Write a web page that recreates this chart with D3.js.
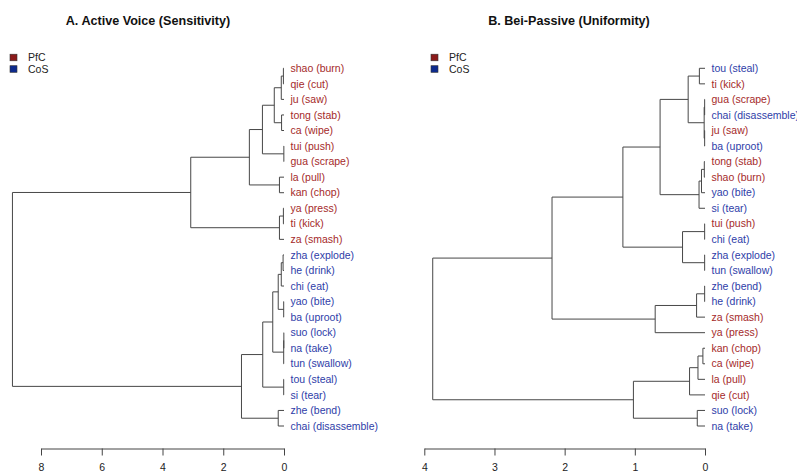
<!DOCTYPE html>
<html>
<head>
<meta charset="utf-8">
<script src="https://cdn.jsdelivr.net/npm/d3@7"></script>
<style>
  body { margin: 0; background: #fff; }
  svg text { font-family: "Liberation Sans", Arial, Helvetica, sans-serif; }
</style>
</head>
<body>
<div id="chart"></div>
<script>
// Panel A leaves (top to bottom) and their class
const leavesA = ["shao (burn)", "qie (cut)", "ju (saw)", "tong (stab)", "ca (wipe)", "tui (push)",
    "gua (scrape)", "la (pull)", "kan (chop)", "ya (press)", "ti (kick)", "za (smash)",
    "zha (explode)", "he (drink)", "chi (eat)", "yao (bite)", "ba (uproot)", "suo (lock)",
    "na (take)", "tun (swallow)", "tou (steal)", "si (tear)", "zhe (bend)", "chai (disassemble)"];
const groupsA = ["PfC", "PfC", "PfC", "PfC", "PfC", "PfC", "PfC", "PfC", "PfC", "PfC", "PfC", "PfC",
    "CoS", "CoS", "CoS", "CoS", "CoS", "CoS", "CoS", "CoS", "CoS", "CoS", "CoS", "CoS"];
// merges: [left, right, height]; string = leaf, number = earlier merge
const mergesA = [
    ["shao", "qie", 0.02], [0, "ju", 0.09], ["tong", "ca", 0.08], [1, 2, 0.32],
    ["tui", "gua", 0.005], [3, 4, 0.71], ["la", "kan", 0.15], [5, 6, 1.14],
    ["ya", "ti", 0.02], [8, "za", 0.15], [7, 9, 3.07],
    ["zha", "he", 0.03], [11, "chi", 0.09], ["yao", "ba", 0.01], [12, 13, 0.19],
    ["suo", "na", 0.005], [15, "tun", 0.01], [14, 16, 0.37], ["tou", "si", 0.01],
    [17, 18, 0.70], ["zhe", "chai", 0.19], [19, 20, 1.40], [10, 21, 8.94]
];
const ticksA = [8, 6, 4, 2, 0];

// Panel B
const leavesB = ["tou (steal)", "ti (kick)", "gua (scrape)", "chai (disassemble)", "ju (saw)", "ba (uproot)",
    "tong (stab)", "shao (burn)", "yao (bite)", "si (tear)", "tui (push)", "chi (eat)",
    "zha (explode)", "tun (swallow)", "zhe (bend)", "he (drink)", "za (smash)", "ya (press)",
    "kan (chop)", "ca (wipe)", "la (pull)", "qie (cut)", "suo (lock)", "na (take)"];
const groupsB = ["CoS", "PfC", "PfC", "CoS", "PfC", "CoS", "PfC", "PfC", "CoS", "CoS", "PfC", "CoS",
    "CoS", "CoS", "CoS", "CoS", "PfC", "PfC", "PfC", "PfC", "PfC", "PfC", "CoS", "CoS"];
const mergesB = [
    ["tou", "ti", 0.08], ["gua", "chai", 0.005], ["ju", "ba", 0.005], [1, 2, 0.012], [0, 3, 0.24],
    ["tong", "shao", 0.01], [5, "yao", 0.05], [6, "si", 0.085], [4, 7, 0.64],
    ["tui", "chi", 0.005], ["zha", "tun", 0.005], [9, 10, 0.32], [8, 11, 1.17],
    ["zhe", "he", 0.005], [13, "za", 0.12], [14, "ya", 0.71], [12, 15, 2.18],
    ["kan", "ca", 0.03], [17, "la", 0.10], [18, "qie", 0.22], ["suo", "na", 0.11],
    [19, 20, 1.02], [16, 21, 3.88]
];
const ticksB = [4, 3, 2, 1, 0];

const legendKeys = ["PfC", "CoS"];

const width = 797, height = 472;
const boxColor = { PfC: "#8b1a1a", CoS: "#0d2a8c" };
const textColor = { PfC: "#a52a2a", CoS: "#2e3da8" };

const svg = d3.select("#chart").append("svg")
    .attr("width", width)
    .attr("height", height);

// leaf rows are shared by both panels
const y = d3.scaleLinear().domain([0, 23]).range([68.3, 426]);

function drawDendro(opts) {
    const { leaves, groups, merges, ticks, x, title, titleX, legendX } = opts;
    const g = svg.append("g");

    const idx = {};
    leaves.forEach((l, i) => { idx[l.split(" ")[0]] = i; });

    // node positions: leaf -> row, merge -> mean of its children
    const nodes = [];
    const child = c => typeof c === "string"
        ? { h: 0, pos: idx[c] }
        : nodes[c];
    merges.forEach(([a, b, h]) => {
        const ca = child(a), cb = child(b);
        nodes.push({ h: h, pos: (ca.pos + cb.pos) / 2, kids: [ca, cb] });
    });

    const lineColor = "#474747";
    nodes.forEach(n => {
        g.append("line")
            .attr("x1", x(n.h)).attr("x2", x(n.h))
            .attr("y1", y(n.kids[0].pos)).attr("y2", y(n.kids[1].pos))
            .attr("stroke", lineColor).attr("stroke-width", 1);
        n.kids.forEach(k => {
            g.append("line")
                .attr("x1", x(n.h)).attr("x2", x(k.h))
                .attr("y1", y(k.pos)).attr("y2", y(k.pos))
                .attr("stroke", lineColor).attr("stroke-width", 1);
        });
    });

    // leaf labels
    g.selectAll(".leaf")
        .data(leaves)
        .enter().append("text")
        .attr("class", "leaf")
        .attr("x", x(0) + 6.5)
        .attr("y", (d, i) => y(i))
        .attr("dy", "0.35em")
        .style("font-size", "10.5px")
        .style("fill", (d, i) => textColor[groups[i]])
        .text(d => d);

    // axis
    const axis = g.append("g")
        .attr("transform", "translate(0,448.5)")
        .call(d3.axisBottom(x).tickValues(ticks).tickFormat(d3.format("d"))
            .tickSize(7).tickSizeOuter(0).tickPadding(8));
    axis.select(".domain").attr("stroke", "#444");
    axis.selectAll(".tick line").attr("stroke", "#444");
    axis.selectAll(".tick text")
        .style("font-size", "10.5px")
        .style("font-family", '"Liberation Sans", Arial, sans-serif')
        .attr("fill", "#222");

    // title
    g.append("text")
        .attr("x", titleX)
        .attr("y", 24.5)
        .attr("text-anchor", "middle")
        .style("font-size", "12.6px")
        .style("font-weight", "bold")
        .style("fill", "#111")
        .text(title);

    // legend
    const lg = g.selectAll(".lg")
        .data(legendKeys)
        .enter().append("g")
        .attr("class", "lg")
        .attr("transform", (d, i) => `translate(${legendX},${57.5 + i * 11.5})`);
    lg.append("rect")
        .attr("x", 0).attr("y", -3.3)
        .attr("width", 7).attr("height", 6.6)
        .attr("fill", d => boxColor[d])
        .attr("stroke", "#333").attr("stroke-width", 0.6);
    lg.append("text")
        .attr("x", 18)
        .attr("dy", "0.35em")
        .style("font-size", "10.5px")
        .style("fill", "#222")
        .text(d => d);
}

drawDendro({
    leaves: leavesA, groups: groupsA, merges: mergesA, ticks: ticksA,
    x: d3.scaleLinear().domain([8, 0]).range([41, 284]),
    title: "A. Active Voice (Sensitivity)", titleX: 148, legendX: 10
});

drawDendro({
    leaves: leavesB, groups: groupsB, merges: mergesB, ticks: ticksB,
    x: d3.scaleLinear().domain([4, 0]).range([424.3, 705]),
    title: "B. Bei-Passive (Uniformity)", titleX: 569, legendX: 431
});
</script>
</body>
</html>
